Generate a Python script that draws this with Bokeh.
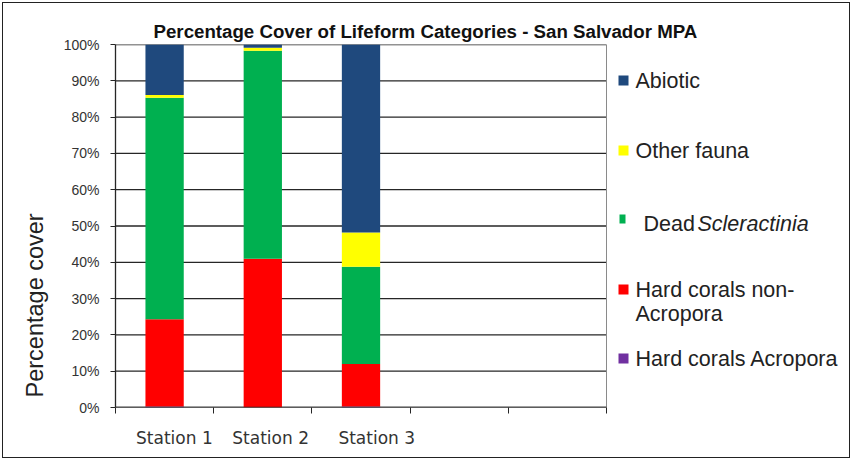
from bokeh.plotting import figure
from bokeh.models import FixedTicker, ColumnDataSource, Range1d, Title
from bokeh.core.properties import value
from bokeh.embed import file_html
from bokeh.resources import INLINE

# ---- data ----
stations = ["Station 1", "Station 2", "Station 3"]
series_names = ["Abiotic", "Other fauna", "Dead Scleractinia",
                "Hard corals non-Acropora", "Hard corals Acropora"]
acropora = [0.3, 0.0, 0.3]
non_acropora = [24.0, 41.0, 11.7]
dead_scleractinia = [61.0, 57.3, 26.8]
other_fauna = [0.8, 0.8, 9.4]
abiotic = [13.9, 0.9, 51.8]
y_ticks = [0, 10, 20, 30, 40, 50, 60, 70, 80, 90, 100]
n_slots = 5  # category slots on the x axis (two are empty)
colors = {"Abiotic": "#1F497D", "Other fauna": "#FFFF00", "Dead Scleractinia": "#00B050",
          "Hard corals non-Acropora": "#FF0000", "Hard corals Acropora": "#7030A0"}

centers = [i + 0.5 for i in range(len(stations))]
src = ColumnDataSource(dict(x=centers, acr=acropora, nonacr=non_acropora,
                            dead=dead_scleractinia, other=other_fauna, abio=abiotic))

# ---- layout (pixels) ----
W, H = 852, 460
FRAME_L, FRAME_T, PLOT_R, FRAME_B = 115, 44, 606, 407
PXU = n_slots / (PLOT_R - FRAME_L)      # x data units per pixel
PYU = 100.0 / (FRAME_B - FRAME_T)       # y data units per pixel

def xd(px):
    return (px - FRAME_L) * PXU

def yd(py):
    return (FRAME_B - py) * PYU

p = figure(width=W, height=H, output_backend="svg", toolbar_location=None,
           x_range=Range1d(0, xd(W)), y_range=Range1d(0, 100),
           min_border_left=FRAME_L, min_border_right=0, min_border_top=FRAME_T,
           min_border_bottom=H - FRAME_B,
           background_fill_color=None, border_fill_color=None)
# white chart background with a thin dark frame around the whole chart
p.styles = {"background-color": "white", "outline": "1px solid #222222",
            "outline-offset": "-3px"}
p.outline_line_color = None

# gridlines and plot-area border (only across the plot area)
p.xgrid.grid_line_color = None
p.ygrid.grid_line_color = None
p.segment(x0=[0] * len(y_ticks), x1=[n_slots] * len(y_ticks), y0=y_ticks, y1=y_ticks,
          line_color="#262626", line_width=1.3)
p.segment(x0=[n_slots], x1=[n_slots], y0=[0], y1=[100], line_color="#8a8a8a", line_width=1)

stack_order = ["acr", "nonacr", "dead", "other", "abio"]
stack_colors = [colors["Hard corals Acropora"], colors["Hard corals non-Acropora"],
                colors["Dead Scleractinia"], colors["Other fauna"], colors["Abiotic"]]
p.vbar_stack(stack_order, x="x", width=0.39, source=src, color=stack_colors, line_color=None)

# x axis baseline across the plot area only
p.segment(x0=[0], x1=[n_slots], y0=[0], y1=[0], line_color="#262626", line_width=1.3)

# title
p.title.text = "Percentage Cover of Lifeform Categories - San Salvador MPA"
p.title.text_font = "Liberation Sans"
p.title.text_font_style = "bold"
p.title.text_font_size = "18.7px"
p.title.text_color = "#111111"
p.title.align = "left"
p.title.offset = 38
p.title.standoff = 5

# y-axis title
p.add_layout(Title(text="Percentage cover", text_font="Liberation Sans", text_font_size="23.5px",
                   text_font_style="normal", text_color="#222222", align="left", offset=10,
                   standoff=25), "left")

# y axis
p.yaxis.ticker = FixedTicker(ticks=y_ticks)
p.yaxis.major_label_overrides = {t: f"{t}%" for t in y_ticks}
p.yaxis.axis_line_color = "#262626"
p.yaxis.axis_line_width = 1.3
p.yaxis.major_tick_line_color = "#262626"
p.yaxis.major_tick_out = 5
p.yaxis.major_tick_in = 0
p.yaxis.minor_tick_line_color = None
p.yaxis.major_label_standoff = 11
p.yaxis.major_label_text_font = "Liberation Sans"
p.yaxis.major_label_text_font_size = "14px"
p.yaxis.major_label_text_color = "#333333"

# x axis
label_shift = [0.1, 0.08, 0.16]  # label offsets seen in the original
label_pos = [c + s for c, s in zip(centers, label_shift)]
p.xaxis.ticker = FixedTicker(ticks=label_pos, minor_ticks=list(range(n_slots + 1)))
p.xaxis.major_label_overrides = {lp: s for lp, s in zip(label_pos, stations)}
p.xaxis.axis_line_color = None
p.xaxis.major_tick_line_color = None
p.xaxis.major_tick_out = 0
p.xaxis.major_tick_in = 0
p.xaxis.minor_tick_line_color = "#262626"
p.xaxis.minor_tick_out = 6
p.xaxis.minor_tick_in = 0
p.xaxis.major_label_standoff = 14
p.xaxis.major_label_text_font = "DejaVu Sans"
p.xaxis.major_label_text_font_size = "17px"
p.xaxis.major_label_text_color = "#333333"

# ---- legend (pixel layout converted to the plot's units) ----
sw_l = [618, 618, 619, 618, 618]
sw_t = [75, 145, 214, 284, 353]
sw_w = [10, 10, 6, 10, 10]
sw_h = [10, 10, 9, 10, 10]
p.block(x=[xd(v) for v in sw_l], y=[yd(t + h) for t, h in zip(sw_t, sw_h)],
        width=[w * PXU for w in sw_w], height=[h * PYU for h in sw_h],
        color=[colors[n] for n in series_names], line_color=None)

txt_font = value("Liberation Sans")
tx = [635, 635, 643, 635, 635, 635]
ty = [80, 150, 223, 289, 313, 358]
p.text(x=[xd(v) for v in tx], y=[yd(v) for v in ty],
       text=["Abiotic", "Other fauna", "Dead", "Hard corals non-", "Acropora",
             "Hard corals Acropora"],
       text_font=txt_font, text_font_size=value("21.5px"), text_color="#222222",
       text_align="left", text_baseline="middle")
p.text(x=[xd(697)], y=[yd(223)], text=["Scleractinia"], text_font=txt_font,
       text_font_size=value("21.5px"), text_font_style="italic", text_color="#222222",
       text_align="left", text_baseline="middle")

open("out.html", "w").write(file_html(p, INLINE))
